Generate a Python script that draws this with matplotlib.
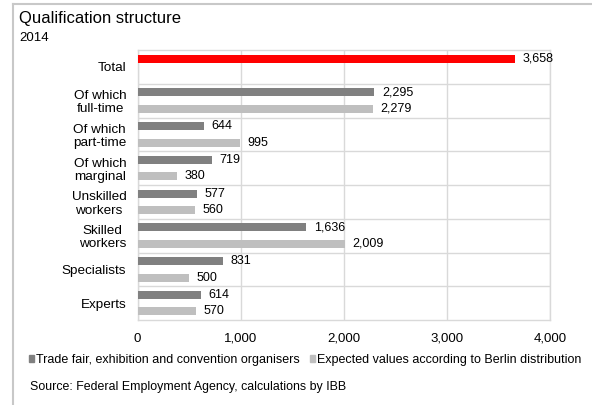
import matplotlib
matplotlib.use("Agg")
import matplotlib.pyplot as plt
from matplotlib.patches import Patch
from matplotlib.lines import Line2D

plt.rcParams['font.family'] = ['Liberation Sans', 'DejaVu Sans']

categories = ["Total", "Of which\nfull-time", "Of which\npart-time", "Of which\nmarginal",
              "Unskilled\nworkers", "Skilled\nworkers", "Specialists", "Experts"]
organisers = [3658, 2295, 644, 719, 577, 1636, 831, 614]
expected = [None, 2279, 995, 380, 560, 2009, 500, 570]
xticks = [0, 1000, 2000, 3000, 4000]
series_names = ["Trade fair, exhibition and convention organisers",
                "Expected values according to Berlin distribution"]

DARK = '#808080'
LIGHT = '#bfbfbf'
RED = '#ff0000'
GRID = '#d9d9d9'

fig = plt.figure(figsize=(5.92, 4.05), dpi=100)
ax = fig.add_axes([137.5/592, 1-320/405, (550-137.5)/592, 270/405])

off = 0.245
h = 0.24
for i, (a, b) in enumerate(zip(organisers, expected)):
    col = RED if i == 0 else DARK
    ax.barh(i - off, a, height=h, color=col, zorder=3)
    ax.text(a + 75, i - off, f"{a:,}", va='center', ha='left', fontsize=9, zorder=4)
    if b is not None:
        ax.barh(i + off, b, height=h, color=LIGHT, zorder=3)
        ax.text(b + 75, i + off, f"{b:,}", va='center', ha='left', fontsize=9, zorder=4)

ax.set_xlim(0, 4000)
ax.set_ylim(len(categories) - 0.5, -0.5)
ax.set_xticks(xticks)
ax.set_xticklabels([f"{v:,}" for v in xticks], fontsize=9.5)
ax.set_yticks(range(len(categories)))
ax.set_yticklabels(categories, fontsize=9.7, multialignment='center', linespacing=1.15)
ax.set_yticks([i + 0.5 for i in range(len(categories) - 1)], minor=True)
ax.tick_params(axis='both', which='both', length=0)
ax.tick_params(axis='x', pad=9)
ax.tick_params(axis='y', pad=8)
ax.grid(axis='x', which='major', color=GRID, linewidth=1, zorder=0)
ax.grid(axis='y', which='minor', color=GRID, linewidth=1, zorder=0)
ax.grid(axis='y', which='major', visible=False)
for s in ax.spines.values():
    s.set_color(GRID)
    s.set_linewidth(1)

fig.text(19/592, 1-19/405, "Qualification structure", fontsize=12, va='center', ha='left')
fig.text(19/592, 1-38/405, "2014", fontsize=9.5, va='center', ha='left')

handles = [Patch(color=DARK), Patch(color=LIGHT)]
fig.legend(handles, series_names, loc='center left', bbox_to_anchor=(29/592, 1-360/405),
           ncol=2, frameon=False, fontsize=9, handlelength=0.42, handleheight=0.42,
           handletextpad=0.15, columnspacing=0.8, borderaxespad=0, borderpad=0)

fig.text(30/592, 1-387/405, "Source: Federal Employment Agency, calculations by IBB",
         fontsize=8.9, va='center', ha='left')

fig.add_artist(Line2D([13/592, 13/592], [0, 1-4/405], transform=fig.transFigure,
                      color='#c8c8c8', linewidth=1.5))
fig.add_artist(Line2D([13/592, 1], [1-4/405, 1-4/405], transform=fig.transFigure,
                      color='#c8c8c8', linewidth=1.5))

fig.savefig("out.png", dpi=100)
